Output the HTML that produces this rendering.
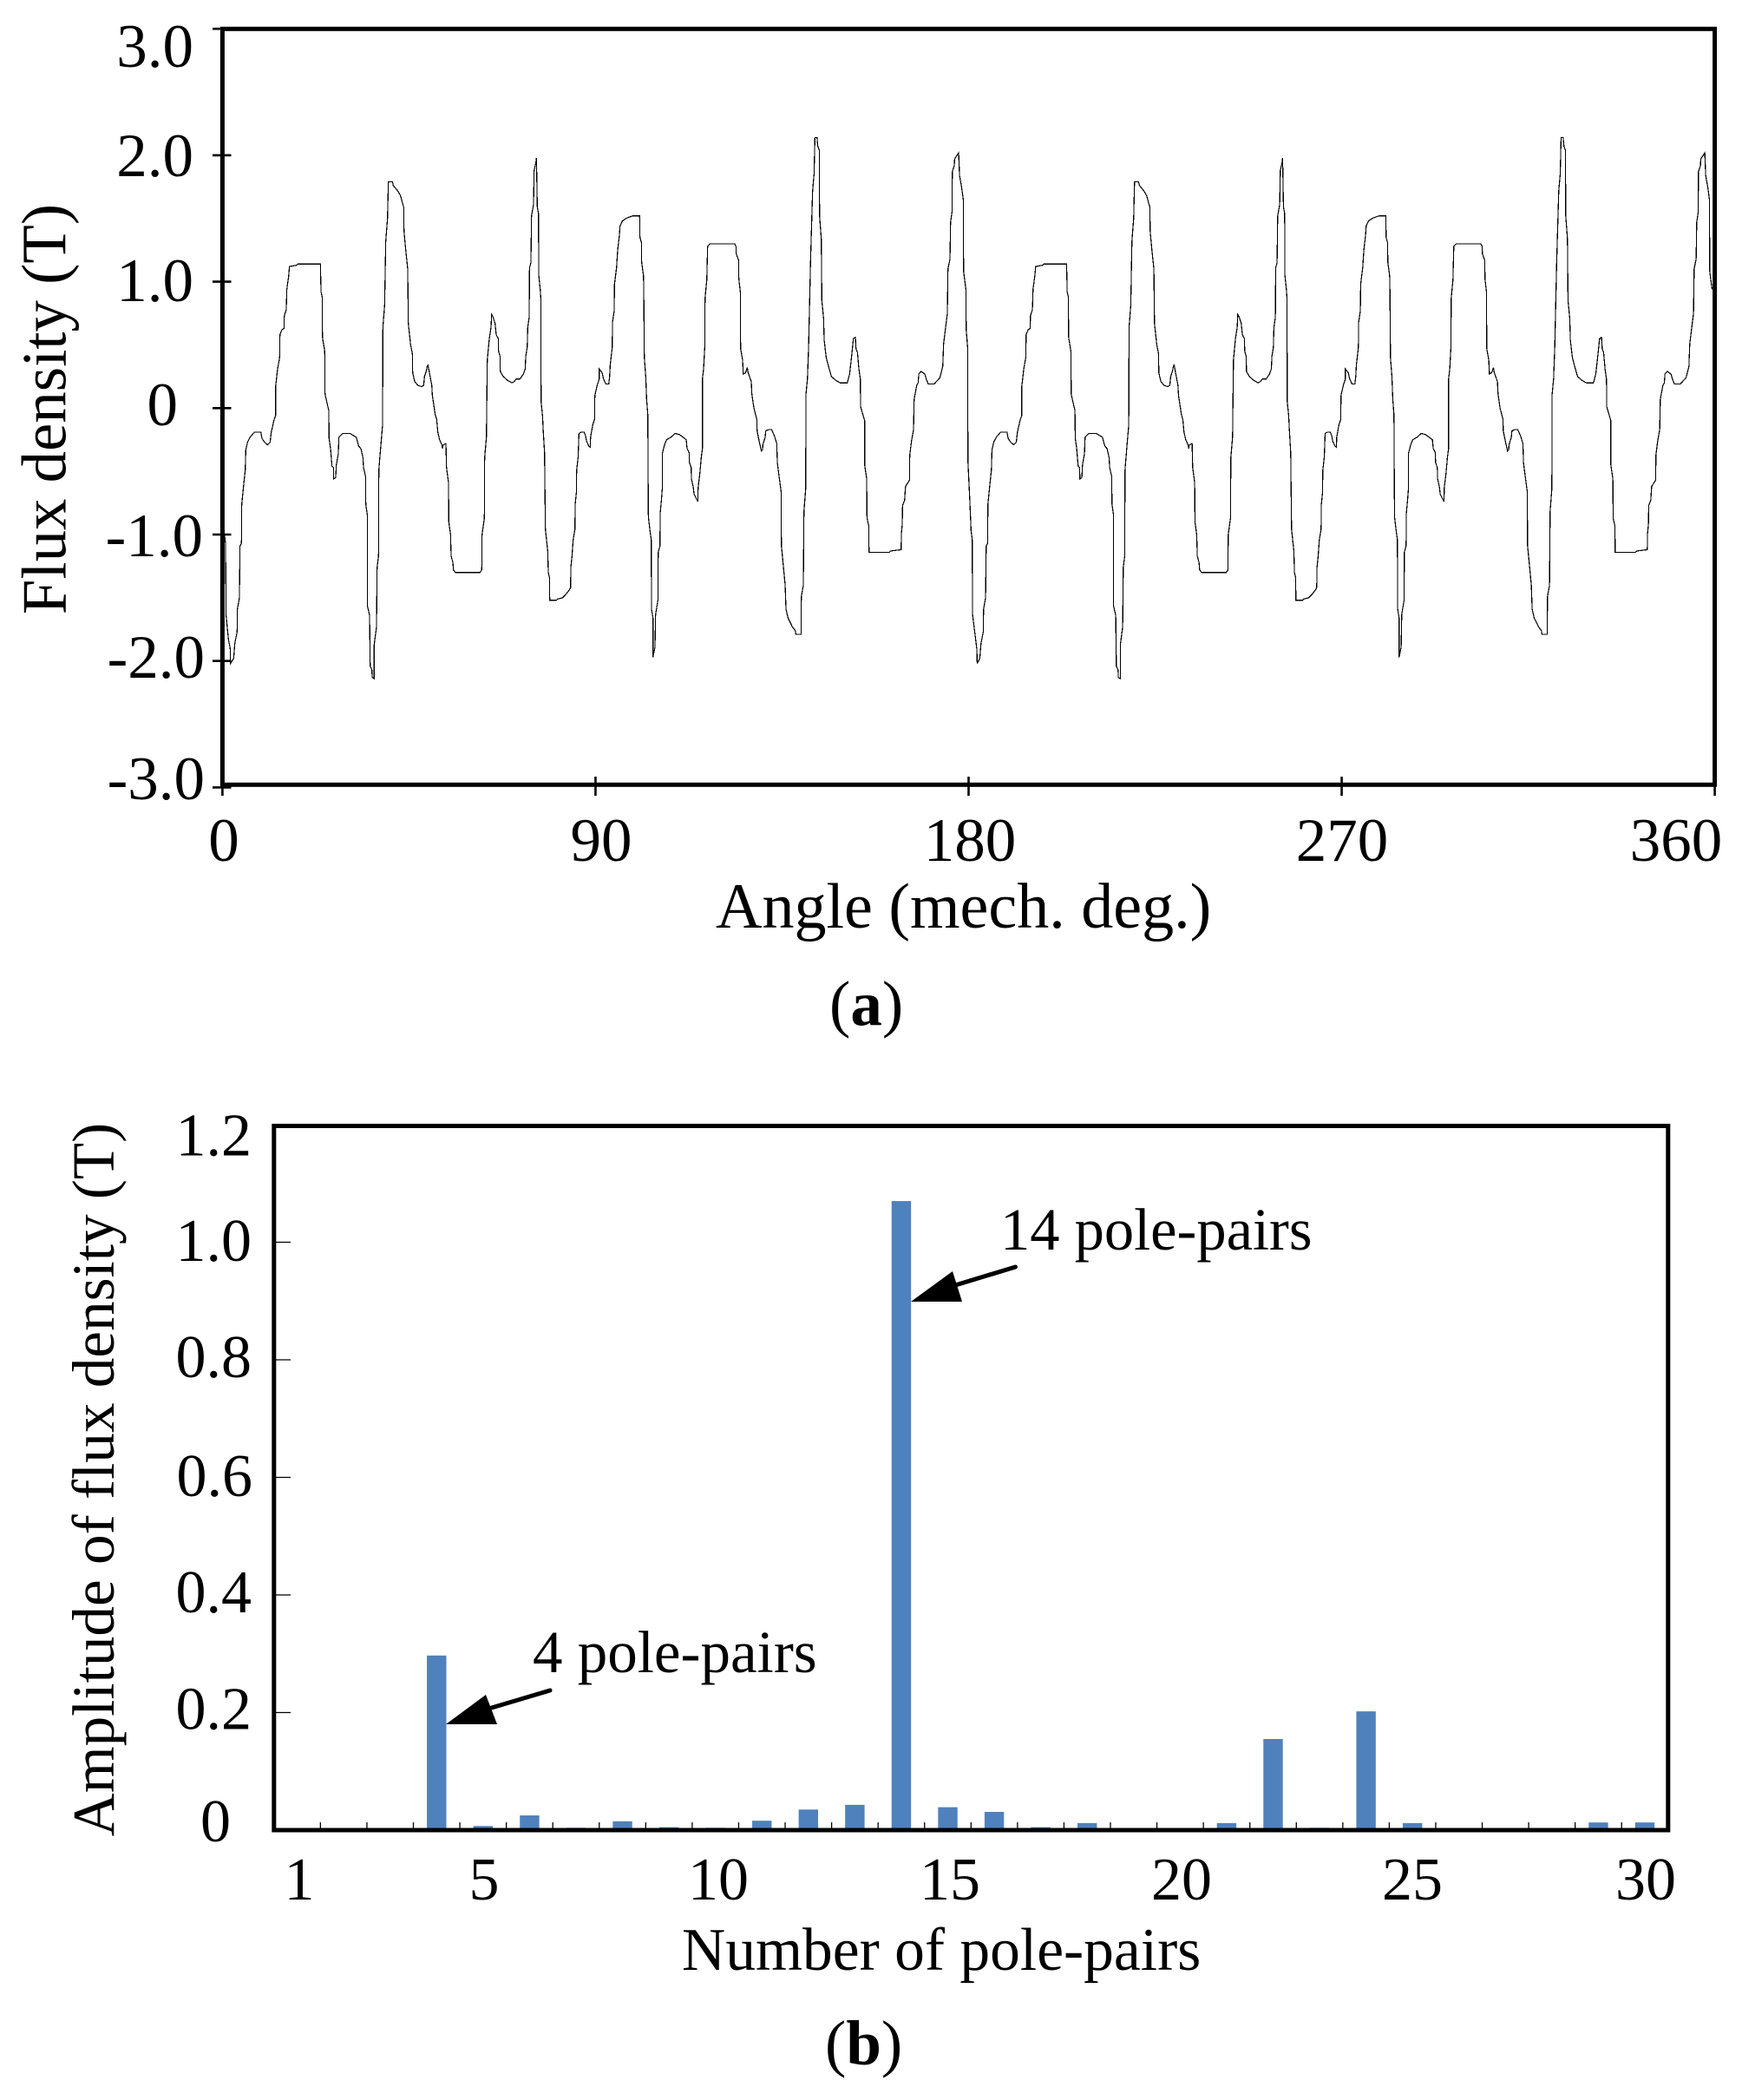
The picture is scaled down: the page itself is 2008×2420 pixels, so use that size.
<!DOCTYPE html>
<html lang="en">
<head>
<meta charset="utf-8">
<title>Flux density waveform and harmonic spectrum</title>
<style>
html,body{margin:0;padding:0;background:#fff;}
svg{display:block;}
text{font-family:"Liberation Serif",serif;fill:#000;}
</style>
</head>
<body>
<svg id="figure" xmlns="http://www.w3.org/2000/svg" width="2008" height="2420" viewBox="0 0 2008 2420">
<rect x="0" y="0" width="2008" height="2420" fill="#fff"/>

<g id="chartA">
  <g id="traceA"></g>
  <rect x="256.4" y="33.3" width="1720.2" height="871" fill="none" stroke="#000" stroke-width="5"/>
  <g id="ticksA"></g>
  <g font-size="71" text-anchor="end">
    <text x="223" y="77">3.0</text>
    <text x="223" y="203">2.0</text>
    <text x="223" y="347">1.0</text>
    <text x="205" y="490">0</text>
    <text x="234" y="641">-1.0</text>
    <text x="236" y="781">-2.0</text>
    <text x="236" y="921">-3.0</text>
  </g>
  <g font-size="71" text-anchor="middle">
    <text x="258" y="992">0</text>
    <text x="693" y="992">90</text>
    <text x="1118" y="992">180</text>
    <text x="1547" y="992">270</text>
    <text x="1932" y="992">360</text>
  </g>
  <text font-size="72.8" text-anchor="middle" transform="translate(75.5 471.5) rotate(-90)">Flux density (T)</text>
  <text font-size="74" x="825" y="1069">Angle (mech. deg.)</text>
  <text font-size="73" x="956" y="1181">(<tspan font-weight="bold">a</tspan>)</text>
</g>

<g id="chartB">
  <g id="barsB"></g>
  <rect x="315.8" y="1297.5" width="1607" height="811.5" fill="none" stroke="#000" stroke-width="5"/>
  <g id="ticksB"></g>
  <g font-size="70" text-anchor="end">
    <text x="290" y="1331.5">1.2</text>
    <text x="290" y="1453">1.0</text>
    <text x="290" y="1587">0.8</text>
    <text x="291" y="1724">0.6</text>
    <text x="290" y="1858">0.4</text>
    <text x="290" y="1992.5">0.2</text>
    <text x="266" y="2122">0</text>
  </g>
  <g font-size="70" text-anchor="middle">
    <text x="345" y="2189">1</text>
    <text x="558" y="2189">5</text>
    <text x="828" y="2189">10</text>
    <text x="1095" y="2189">15</text>
    <text x="1362" y="2189">20</text>
    <text x="1628" y="2189">25</text>
    <text x="1897" y="2189">30</text>
  </g>
  <text font-size="69.2" text-anchor="middle" transform="translate(131 1705) rotate(-90)">Amplitude of flux density (T)</text>
  <text font-size="69.5" x="786" y="2270">Number of pole-pairs</text>
  <text font-size="73" x="951" y="2379">(<tspan font-weight="bold">b</tspan>)</text>

  <text font-size="69" x="614" y="1927">4 pole-pairs</text>
  <line x1="634" y1="1948" x2="560" y2="1970" stroke="#000" stroke-width="5" stroke-linecap="round"/>
  <polygon points="514,1987 560,1953 573,1987" fill="#000"/>
  <text font-size="68.5" x="1153" y="1440">14 pole-pairs</text>
  <line x1="1170.5" y1="1460" x2="1098" y2="1482" stroke="#000" stroke-width="5" stroke-linecap="round"/>
  <polygon points="1050,1500 1098,1465 1109,1500" fill="#000"/>
</g>
</svg>

<script>
// ---- Panel (a) data: angle in mechanical degrees, flux density in tesla ----
const fluxAngles = [
0,0.27,0.75,0.89,1.45,1.87,1.94,2.71,2.99,3.54,
3.61,4.10,4.24,4.59,4.66,5.08,5.50,5.64,6.06,6.68,
7.73,9.27,9.54,10.17,10.87,11.50,11.78,12.47,12.82,12.82,
13.31,13.80,13.87,14.36,14.85,14.92,15.40,15.54,15.96,16.17,
17.85,18.19,23.64,23.78,24.06,24.13,24.68,24.75,25.66,25.73,
26.08,26.43,26.78,26.85,27.33,27.47,27.96,28.10,29.01,30.75,
32.29,32.85,33.40,33.89,34.03,34.52,34.59,34.94,34.94,35.50,
35.64,36.05,36.12,36.61,36.61,37.17,37.31,37.66,37.73,38.15,
38.64,38.71,39.12,39.40,39.82,40.03,41.01,41.22,42.26,42.96,
43.45,43.73,43.80,44.22,44.70,44.84,45.40,45.82,45.89,46.38,
47.15,48.05,48.54,48.75,49.24,49.38,49.59,50.50,50.64,51.33,
51.68,51.96,52.38,52.94,53.08,53.29,53.92,54.05,54.54,54.61,
55.03,55.17,55.59,55.73,56.22,62.15,62.56,62.63,63.19,63.26,
63.68,63.89,64.38,64.80,64.94,65.29,65.77,66.05,66.54,66.61,
66.96,67.03,67.73,68.77,69.82,70.38,70.87,71.77,72.61,73.03,
73.17,73.52,73.66,74.01,74.08,74.42,74.56,75.05,75.19,75.61,
75.75,75.96,76.24,76.31,76.66,76.80,76.87,77.22,77.36,77.70,
77.91,78.47,78.61,78.89,78.96,80.56,80.84,82.03,82.93,83.63,
83.98,84.05,84.33,84.61,85.03,85.10,85.38,85.45,85.80,86.01,
86.56,87.26,87.61,87.82,88.38,88.73,88.80,89.35,89.77,89.84,
90.40,90.89,90.89,91.59,91.94,92.50,93.19,93.40,93.54,94.03,
94.10,94.51,94.58,95.07,95.35,95.77,95.91,96.47,97.37,98.07,
98.98,100.65,100.72,101.07,101.14,101.56,101.63,101.77,102.12,102.33,
102.61,102.75,103.10,103.44,103.51,103.86,103.86,104.35,104.49,105.05,
105.12,105.54,105.61,105.89,106.10,106.10,106.65,107.14,108.19,109.23,
110.28,111.89,112.09,112.58,112.65,113.07,113.14,113.56,113.77,114.68,
114.75,115.16,115.51,115.79,115.79,116.07,116.35,116.42,116.84,117.05,
117.61,123.54,123.88,123.95,124.51,124.58,124.93,125.00,125.49,125.63,
126.19,126.61,126.82,127.58,127.72,128.21,128.91,128.98,129.47,130.02,
130.30,130.37,130.93,131.07,131.77,132.47,133.16,133.72,133.86,134.28,
134.77,134.84,135.26,135.75,135.95,136.44,137.49,138.19,138.33,139.58,
139.65,140.14,140.28,140.70,140.77,141.12,141.40,141.88,142.37,142.72,
142.93,143.42,143.63,143.98,144.05,144.46,144.60,145.02,145.16,145.65,
146.21,146.91,147.95,149.00,150.74,151.30,151.65,152.21,152.70,152.84,
153.19,153.53,153.88,153.95,154.58,154.93,154.93,155.42,155.49,155.91,
155.98,160.86,161.21,163.72,163.79,164.00,164.07,164.56,164.77,165.74,
165.81,166.23,166.72,166.86,167.49,167.84,167.98,168.53,169.44,169.79,
170.28,171.67,173.07,173.77,173.97,174.46,174.88,175.02,175.51,175.65,
176.00,176.07,176.56,176.63,177.60,177.81,178.30,178.72,178.79,179.35,
179.42,179.77,179.84,180.25,180.60,180.88,180.95,181.44,182.00,182.07,
182.71,182.99,183.54,
183.61,184.10,184.24,184.59,184.66,185.08,185.50,185.64,186.06,186.68,
187.73,189.27,189.54,190.17,190.87,191.50,191.78,192.47,192.82,192.82,
193.31,193.80,193.87,194.36,194.85,194.92,195.40,195.54,195.96,196.17,
197.85,198.19,203.64,203.78,204.06,204.13,204.68,204.75,205.66,205.73,
206.08,206.43,206.78,206.85,207.33,207.47,207.96,208.10,209.01,210.75,
212.29,212.85,213.40,213.89,214.03,214.52,214.59,214.94,214.94,215.50,
215.64,216.05,216.12,216.61,216.61,217.17,217.31,217.66,217.73,218.15,
218.64,218.71,219.12,219.40,219.82,220.03,221.01,221.22,222.26,222.96,
223.45,223.73,223.80,224.22,224.70,224.84,225.40,225.82,225.89,226.38,
227.15,228.05,228.54,228.75,229.24,229.38,229.59,230.50,230.64,231.33,
231.68,231.96,232.38,232.94,233.08,233.29,233.92,234.05,234.54,234.61,
235.03,235.17,235.59,235.73,236.22,242.15,242.56,242.63,243.19,243.26,
243.68,243.89,244.38,244.80,244.94,245.29,245.77,246.05,246.54,246.61,
246.96,247.03,247.73,248.77,249.82,250.38,250.87,251.77,252.61,253.03,
253.17,253.52,253.66,254.01,254.08,254.42,254.56,255.05,255.19,255.61,
255.75,255.96,256.24,256.31,256.66,256.80,256.87,257.22,257.36,257.70,
257.91,258.47,258.61,258.89,258.96,260.56,260.84,262.03,262.93,263.63,
263.98,264.05,264.33,264.61,265.03,265.10,265.38,265.45,265.80,266.01,
266.56,267.26,267.61,267.82,268.38,268.73,268.80,269.35,269.77,269.84,
270.40,270.89,270.89,271.59,271.94,272.50,273.19,273.40,273.54,274.03,
274.10,274.51,274.58,275.07,275.35,275.77,275.91,276.47,277.37,278.07,
278.98,280.65,280.72,281.07,281.14,281.56,281.63,281.77,282.12,282.33,
282.61,282.75,283.10,283.44,283.51,283.86,283.86,284.35,284.49,285.05,
285.12,285.54,285.61,285.89,286.10,286.10,286.65,287.14,288.19,289.23,
290.28,291.89,292.09,292.58,292.65,293.07,293.14,293.56,293.77,294.68,
294.75,295.16,295.51,295.79,295.79,296.07,296.35,296.42,296.84,297.05,
297.61,303.54,303.88,303.95,304.51,304.58,304.93,305.00,305.49,305.63,
306.19,306.61,306.82,307.58,307.72,308.21,308.91,308.98,309.47,310.02,
310.30,310.37,310.93,311.07,311.77,312.47,313.16,313.72,313.86,314.28,
314.77,314.84,315.26,315.75,315.95,316.44,317.49,318.19,318.33,319.58,
319.65,320.14,320.28,320.70,320.77,321.12,321.40,321.88,322.37,322.72,
322.93,323.42,323.63,323.98,324.05,324.46,324.60,325.02,325.16,325.65,
326.21,326.91,327.95,329.00,330.74,331.30,331.65,332.21,332.70,332.84,
333.19,333.53,333.88,333.95,334.58,334.93,334.93,335.42,335.49,335.91,
335.98,340.86,341.21,343.72,343.79,344.00,344.07,344.56,344.77,345.74,
345.81,346.23,346.72,346.86,347.49,347.84,347.98,348.53,349.44,349.79,
350.28,351.67,353.07,353.77,353.97,354.46,354.88,355.02,355.51,355.65,
356.00,356.07,356.56,356.63,357.60,357.81,358.30,358.72,358.79,359.35
];
const fluxValues = [
-0.42,-0.94,-1.07,-1.64,-1.83,-1.90,-2.02,-1.98,-1.86,-1.77,
-1.59,-1.50,-1.09,-1.07,-0.76,-0.62,-0.49,-0.33,-0.27,-0.23,
-0.19,-0.19,-0.24,-0.27,-0.29,-0.27,-0.19,-0.09,-0.06,0.17,
0.31,0.40,0.58,0.62,0.63,0.73,0.78,0.94,1.04,1.12,
1.13,1.14,1.14,0.92,0.88,0.56,0.45,0.11,-0.02,-0.24,
-0.32,-0.46,-0.47,-0.56,-0.55,-0.45,-0.36,-0.23,-0.20,-0.20,
-0.23,-0.30,-0.32,-0.39,-0.47,-0.54,-0.76,-0.84,-1.56,-1.64,
-2.04,-2.07,-2.13,-2.14,-1.87,-1.73,-1.26,-1.17,-0.49,-0.32,
-0.13,0.64,0.81,1.32,1.50,1.79,1.79,1.76,1.72,1.68,
1.62,1.59,1.40,1.25,1.10,0.67,0.50,0.43,0.28,0.21,
0.18,0.17,0.18,0.25,0.30,0.33,0.34,0.18,0.10,-0.05,
-0.09,-0.19,-0.25,-0.29,-0.32,-0.29,-0.28,-0.47,-0.59,-0.90,
-1.00,-1.17,-1.22,-1.28,-1.30,-1.30,-1.28,-1.00,-0.87,-0.39,
-0.23,0.38,0.55,0.64,0.74,0.72,0.67,0.58,0.55,0.45,
0.41,0.29,0.25,0.22,0.20,0.21,0.23,0.23,0.27,0.31,
0.41,0.48,0.64,0.72,1.11,1.15,1.52,1.61,1.88,1.94,
1.98,1.59,1.54,1.05,0.94,0.87,0.05,-0.06,-0.16,-0.35,
-0.96,-1.13,-1.30,-1.34,-1.52,-1.52,-1.51,-1.50,-1.47,-1.44,
-1.42,-1.26,-1.17,-1.04,-0.96,-0.76,-0.67,-0.49,-0.39,-0.20,
-0.19,-0.19,-0.22,-0.26,-0.30,-0.31,-0.23,-0.13,-0.09,0.10,
0.18,0.23,0.31,0.28,0.23,0.19,0.19,0.25,0.34,0.48,
0.68,0.77,0.98,1.11,1.25,1.37,1.44,1.48,1.50,1.51,
1.52,1.52,1.35,1.31,1.15,1.05,0.97,0.40,0.25,0.07,
-0.05,-0.86,-0.96,-1.04,-1.59,-1.66,-1.97,-1.89,-1.63,-1.52,
-1.14,-1.09,-0.83,-0.73,-0.64,-0.36,-0.29,-0.25,-0.23,-0.20,
-0.21,-0.25,-0.32,-0.35,-0.43,-0.47,-0.56,-0.62,-0.68,-0.74,
-0.63,-0.52,-0.39,-0.32,0.23,0.31,0.48,0.87,1.01,1.28,
1.30,1.30,1.28,1.22,1.17,1.02,0.92,0.47,0.38,0.27,
0.28,0.32,0.28,0.21,0.11,0.00,-0.09,-0.18,-0.26,-0.34,
-0.33,-0.29,-0.23,-0.18,-0.17,-0.17,-0.22,-0.28,-0.43,-0.54,
-0.66,-1.09,-1.23,-1.40,-1.59,-1.66,-1.73,-1.76,-1.79,-1.79,
-1.49,-1.40,-0.82,-0.64,0.11,0.23,0.48,1.17,1.72,1.85,
2.14,2.14,2.07,2.04,1.52,1.34,0.85,0.71,0.54,0.40,
0.33,0.25,0.22,0.20,0.20,0.27,0.37,0.55,0.56,0.47,
0.44,0.31,0.23,0.01,-0.06,-0.10,-0.45,-0.56,-0.87,-0.93,
-1.14,-1.14,-1.13,-1.12,-0.99,-0.92,-0.77,-0.73,-0.62,-0.57,
-0.37,-0.26,-0.17,0.07,0.18,0.20,0.27,0.29,0.27,0.23,
0.19,0.19,0.24,0.33,0.51,0.64,0.75,1.10,1.18,1.47,
1.55,1.87,1.92,1.97,2.02,1.84,1.75,1.65,1.08,0.94,
0.62,0.48,-0.42,-0.70,-0.97,-1.04,-1.63,-1.76,-1.91,-2.02,
-1.98,-1.86,-1.77,
-1.59,-1.5,-1.09,-1.07,-.76,-.62,-.49,-.33,-.27,-.23,
-.19,-.19,-.24,-.27,-.29,-.27,-.19,-.09,-.06,.17,
.31,.4,.58,.62,.63,.73,.78,.94,1.04,1.12,
1.13,1.14,1.14,.92,.88,.56,.45,.11,-.02,-.24,
-.32,-.46,-.47,-.56,-.55,-.45,-.36,-.23,-.2,-.2,
-.23,-.3,-.32,-.39,-.47,-.54,-.76,-.84,-1.56,-1.64,
-2.04,-2.07,-2.13,-2.14,-1.87,-1.73,-1.26,-1.17,-.49,-.32,
-.13,.64,.81,1.32,1.5,1.79,1.79,1.76,1.72,1.68,
1.62,1.59,1.4,1.25,1.1,.67,.5,.43,.28,.21,
.18,.17,.18,.25,.3,.33,.34,.18,.1,-.05,
-.09,-.19,-.25,-.29,-.32,-.29,-.28,-.47,-.59,-.9,
-1,-1.17,-1.22,-1.28,-1.3,-1.3,-1.28,-1,-.87,-.39,
-.23,.38,.55,.64,.74,.72,.67,.58,.55,.45,
.41,.29,.25,.22,.2,.21,.23,.23,.27,.31,
.41,.48,.64,.72,1.11,1.15,1.52,1.61,1.88,1.94,
1.98,1.59,1.54,1.05,.94,.87,.05,-.06,-.16,-.35,
-.96,-1.13,-1.3,-1.34,-1.52,-1.52,-1.51,-1.5,-1.47,-1.44,
-1.42,-1.26,-1.17,-1.04,-.96,-.76,-.67,-.49,-.39,-.2,
-.19,-.19,-.22,-.26,-.3,-.31,-.23,-.13,-.09,.1,
.18,.23,.31,.28,.23,.19,.19,.25,.34,.48,
.68,.77,.98,1.11,1.25,1.37,1.44,1.48,1.5,1.51,
1.52,1.52,1.35,1.31,1.15,1.05,.97,.4,.25,.07,
-.05,-.86,-.96,-1.04,-1.59,-1.66,-1.97,-1.89,-1.63,-1.52,
-1.14,-1.09,-.83,-.73,-.64,-.36,-.29,-.25,-.23,-.2,
-.21,-.25,-.32,-.35,-.43,-.47,-.56,-.62,-.68,-.74,
-.63,-.52,-.39,-.32,.23,.31,.48,.87,1.01,1.28,
1.3,1.3,1.28,1.22,1.17,1.02,.92,.47,.38,.27,
.28,.32,.28,.21,.11,0,-.09,-.18,-.26,-.34,
-.33,-.29,-.23,-.18,-.17,-.17,-.22,-.28,-.43,-.54,
-.66,-1.09,-1.23,-1.4,-1.59,-1.66,-1.73,-1.76,-1.79,-1.79,
-1.49,-1.4,-.82,-.64,.11,.23,.48,1.17,1.72,1.85,
2.14,2.14,2.07,2.04,1.52,1.34,.85,.71,.54,.4,
.33,.25,.22,.2,.2,.27,.37,.55,.56,.47,
.44,.31,.23,.01,-.06,-.1,-.45,-.56,-.87,-.93,
-1.14,-1.14,-1.13,-1.12,-.99,-.92,-.77,-.73,-.62,-.57,
-.37,-.26,-.17,.07,.18,.2,.27,.29,.27,.23,
.19,.19,.24,.33,.51,.64,.75,1.1,1.18,1.47,
1.55,1.87,1.92,1.97,2.02,1.84,1.75,1.65,1.08,.94
];
const angleTicks = [0, 90, 180, 270, 360];
const fluxTicks = [-3, -2, -1, 0, 1, 2, 3];

// ---- Panel (b) data: pole-pair number and amplitude in tesla ----
const polePairs = [1,2,3,4,5,6,7,8,9,10,11,12,13,14,15,16,17,18,19,20,21,22,23,24,25,26,27,28,29,30];
const amplitudes = [0,0,0,0.297,0.007,0.025,0.004,0.015,0.005,0.004,0.016,0.035,0.043,1.07,0.039,0.031,0.005,0.012,0,0,0.012,0.155,0.004,0.202,0.012,0,0,0,0.013,0.013];
const amplitudeTicks = [0, 0.2, 0.4, 0.6, 0.8, 1.0, 1.2];

const SVG_NS = 'http://www.w3.org/2000/svg';

// Axis functions
function xAngle(a) { return 256.4 + a * (1976.6 - 256.4) / 360; }
function yFlux(v) { return 470.3 - v * 145.7; }
function xPole(n) { return 315.8 + (n - 0.5) * (1922.8 - 315.8) / 30; }
function yAmp(v) { return 2109 - v * (2109 - 1296) / 1.2; }

// Panel (a): trace
const traceGroup = document.getElementById('traceA');
const trace = document.createElementNS(SVG_NS, 'polyline');


trace.setAttribute('points', fluxAngles.map(function (a, i) {
  return xAngle(a).toFixed(2) + ',' + yFlux(fluxValues[i]).toFixed(2);
}).join(' '));
trace.setAttribute('fill', 'none');
trace.setAttribute('stroke', '#000');
trace.setAttribute('stroke-width', '1.2');
trace.setAttribute('shape-rendering', 'crispEdges');
traceGroup.appendChild(trace);

// Panel (a): ticks
const ticksA = document.getElementById('ticksA');
fluxTicks.forEach(function (v) {
  const t = document.createElementNS(SVG_NS, 'line');
  
  
  t.setAttribute('x1', 245);
  t.setAttribute('x2', 266.5);
  t.setAttribute('y1', yFlux(v));
  t.setAttribute('y2', yFlux(v));
  t.setAttribute('stroke', '#000');
  t.setAttribute('stroke-width', '2.6');
  ticksA.appendChild(t);
});
angleTicks.forEach(function (a) {
  const t = document.createElementNS(SVG_NS, 'line');
  
  
  t.setAttribute('x1', xAngle(a));
  t.setAttribute('x2', xAngle(a));
  t.setAttribute('y1', 895);
  t.setAttribute('y2', 917);
  t.setAttribute('stroke', '#000');
  t.setAttribute('stroke-width', '2.6');
  ticksA.appendChild(t);
});

// Panel (b): ticks
const ticksB = document.getElementById('ticksB');
amplitudeTicks.forEach(function (v) {
  const t = document.createElementNS(SVG_NS, 'line');
  
  
  t.setAttribute('x1', 316);
  t.setAttribute('x2', 335);
  t.setAttribute('y1', yAmp(v));
  t.setAttribute('y2', yAmp(v));
  t.setAttribute('stroke', '#000');
  t.setAttribute('stroke-width', '1.3');
  ticksB.appendChild(t);
});
polePairs.forEach(function (n) {
  const t = document.createElementNS(SVG_NS, 'line');
  
  
  t.setAttribute('x1', xPole(n + 0.5));
  t.setAttribute('x2', xPole(n + 0.5));
  t.setAttribute('y1', 2100);
  t.setAttribute('y2', 2109);
  t.setAttribute('stroke', '#000');
  t.setAttribute('stroke-width', '1.3');
  ticksB.appendChild(t);
});

// Panel (b): bars
const barsB = document.getElementById('barsB');
polePairs.forEach(function (n, i) {
  if (amplitudes[i] <= 0) { return; }
  const b = document.createElementNS(SVG_NS, 'rect');
  
  
  b.setAttribute('x', xPole(n) - 11.2);
  b.setAttribute('y', yAmp(amplitudes[i]));
  b.setAttribute('width', 22.4);
  b.setAttribute('height', yAmp(0) - yAmp(amplitudes[i]));
  b.setAttribute('fill', '#4f81bd');
  barsB.appendChild(b);
});
</script>
</body>
</html>
